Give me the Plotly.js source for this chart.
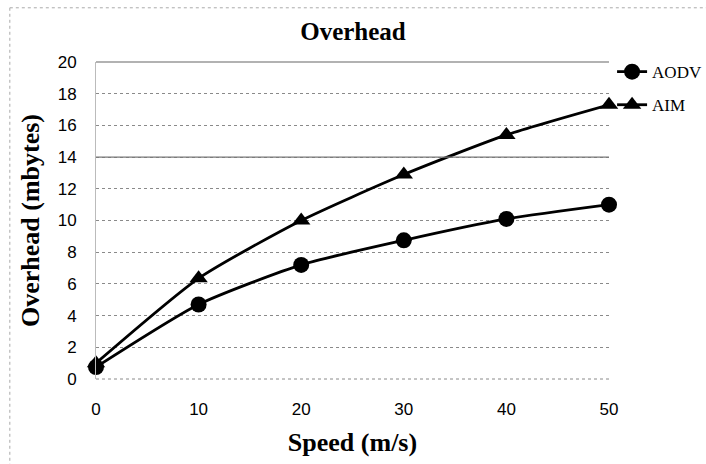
<!DOCTYPE html>
<html>
<head>
<meta charset="utf-8">
<script src="https://cdn.plot.ly/plotly-3.0.1.min.js"></script>
<style>html,body{margin:0;padding:0;background:#fff;}#chart{width:706px;height:464px;}</style>
</head>
<body>
<div id="chart"></div>
<script>
const speeds = [0, 10, 20, 30, 40, 50];
const aodv = [0.75, 4.7, 7.2, 8.75, 10.1, 11.0];
const aim = [1.0, 6.35, 10.0, 12.9, 15.4, 17.3];
const xTickLabels = ['0', '10', '20', '30', '40', '50'];
const yTicks = [0, 2, 4, 6, 8, 10, 12, 14, 16, 18, 20];

const serif = 'Liberation Serif, Times New Roman, serif';
const sans = 'Liberation Sans Narrow, Liberation Sans, Arial, sans-serif';

const traces = [
  {x: speeds, y: aodv, name: 'AODV', legendgroup: 'a', mode: 'lines+markers', type: 'scatter',
   line: {color: '#000', width: 2.8, shape: 'spline', smoothing: 0.6},
   marker: {symbol: 'circle', size: 16, color: '#000'}, cliponaxis: false},
  {x: speeds, y: aim, name: 'AIM', legendgroup: 'b', mode: 'lines+markers', type: 'scatter',
   line: {color: '#000', width: 2.8, shape: 'spline', smoothing: 0.6},
   marker: {symbol: 'triangle-up', size: 16, color: '#000'}, cliponaxis: false}
];

const layout = {
  width: 706, height: 464,
  margin: {l: 96, r: 97, t: 62, b: 85, autoexpand: false},
  paper_bgcolor: '#fff', plot_bgcolor: '#fff',
  showlegend: true,
  title: {text: '<b>Overhead</b>', font: {family: serif, size: 25, color: '#000'}, x: 0.5, xanchor: 'center', y: 0.932, yanchor: 'middle'},
  legend: {x: 1.006, y: 1.025, xanchor: 'left', yanchor: 'top', font: {family: serif, size: 17, color: '#000'},
           itemwidth: 30, tracegroupgap: 8, bgcolor: 'rgba(0,0,0,0)'},
  xaxis: {range: [0, 50], tickvals: speeds, ticktext: xTickLabels, showgrid: false, zeroline: false,
          showline: false, ticks: '', ticklabelstandoff: 18,
          tickfont: {family: sans, size: 17, color: '#000'},
          title: {text: '<b>Speed (m/s)</b>', font: {family: serif, size: 26, color: '#000'}, standoff: 14}},
  yaxis: {range: [0, 20], tickvals: yTicks, showgrid: true, gridcolor: '#8a8a8a', griddash: 'dot', gridwidth: 1,
          zeroline: false, showline: true, linecolor: '#bbb', linewidth: 1, ticks: '', ticklabelstandoff: 15,
          tickfont: {family: sans, size: 17, color: '#000'},
          title: {text: '<b>Overhead (mbytes)</b>', font: {family: serif, size: 26, color: '#000'}, standoff: 10}},
  shapes: [
    {type: 'line', xref: 'paper', yref: 'paper', x0: 0, x1: 1, y0: 0, y1: 0, line: {color: '#8a8a8a', width: 1, dash: 'dot'}},
    {type: 'line', xref: 'paper', yref: 'paper', x0: 0, x1: 1, y0: 1, y1: 1, line: {color: '#666', width: 1.2}},
    {type: 'line', xref: 'paper', yref: 'y', x0: 0, x1: 1, y0: 14, y1: 14, line: {color: '#777', width: 1.2}},
    {type: 'line', xref: 'paper', yref: 'paper', x0: -0.168, x1: 1.2, y0: 1.171, y1: 1.171, line: {color: '#aaa', width: 1, dash: 'dot'}},
    {type: 'line', xref: 'paper', yref: 'paper', x0: -0.168, x1: -0.168, y0: 1.171, y1: -0.27, line: {color: '#aaa', width: 1, dash: 'dot'}}
  ]
};

Plotly.newPlot('chart', traces, layout, {displayModeBar: false, staticPlot: true});
</script>
</body>
</html>
